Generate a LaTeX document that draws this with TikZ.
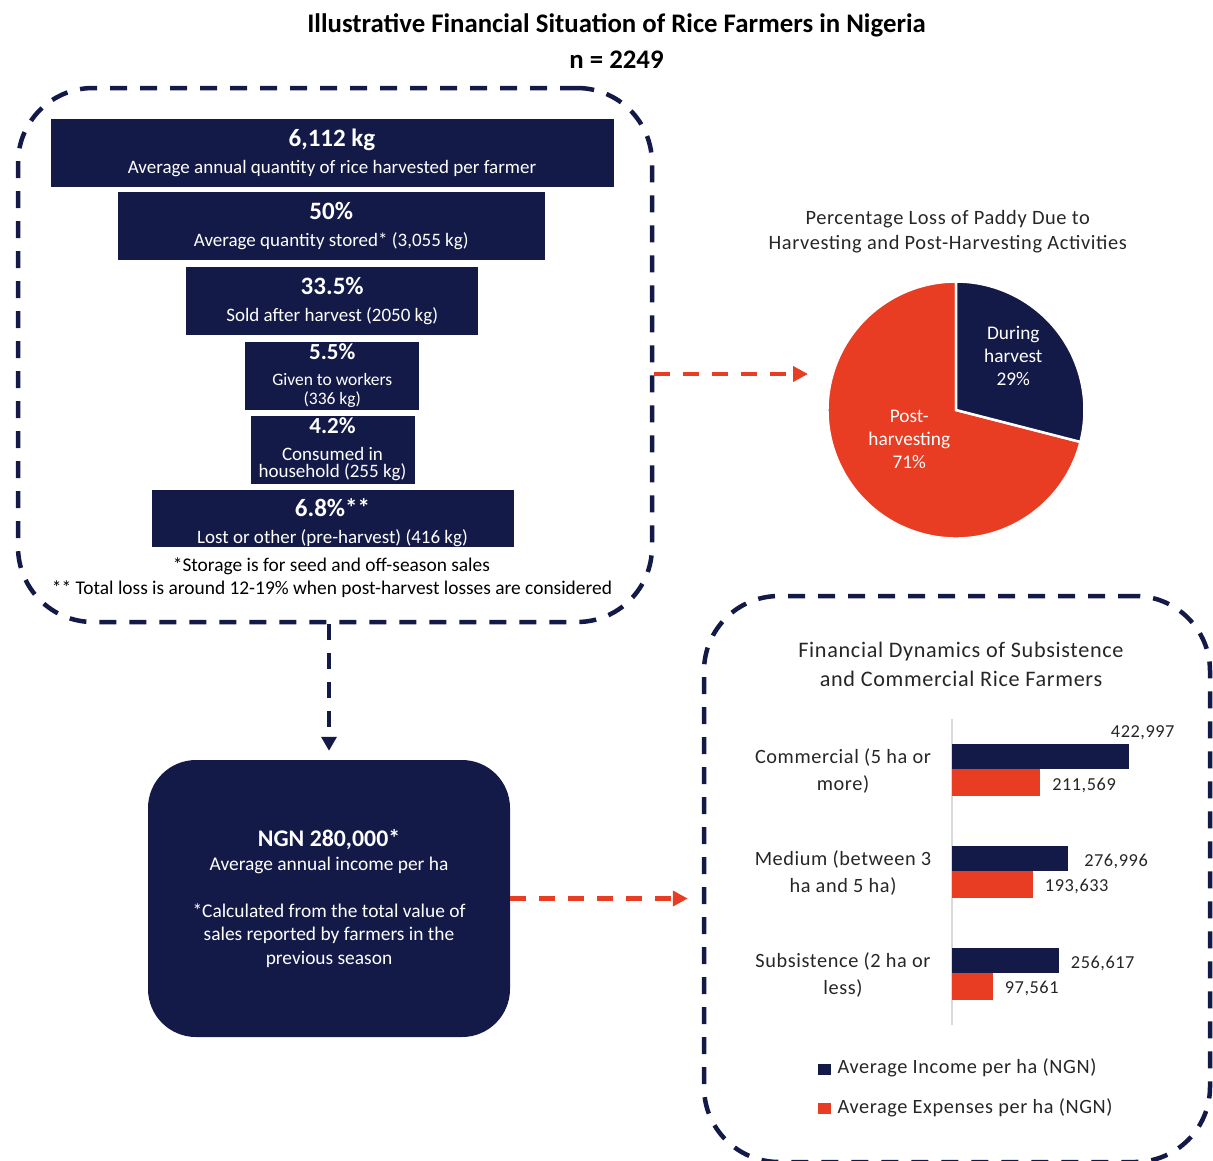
\documentclass[tikz,border=0pt]{standalone}
\usepackage{fontspec}
\setmainfont{Carlito}
\newfontfamily\chartfont[LetterSpace=3]{Carlito}
\usetikzlibrary{arrows.meta,positioning}

\definecolor{navy}{RGB}{20,26,72}
\definecolor{rust}{RGB}{232,60,35}
\definecolor{axisgrey}{RGB}{217,217,217}

\newcommand{\barhead}[1]{{\fontsize{25}{27}\selectfont\bfseries #1}}

\tikzset{
  dashframe/.style={draw=navy, line width=4.5pt, dash pattern=on 17pt off 13pt,
                    rounded corners=75pt, inner sep=0pt},
  funnelbar/.style={fill=navy, text=white, align=center, inner sep=0pt,
                    font=\fontsize{19}{27}\selectfont},
  navyflow/.style={draw=navy, line width=4.5pt, dash pattern=on 16pt off 13pt,
                   -{Triangle[length=14pt,width=15pt]}},
  rustflow/.style={draw=rust, line width=4.5pt, dash pattern=on 16pt off 13pt,
                   -{Triangle[length=15pt,width=15pt]}},
  charttext/.style={font=\chartfont\fontsize{20.3}{27}\selectfont, text=black!85, align=center},
  valuetext/.style={charttext, font=\chartfont\fontsize{18.3}{27}\selectfont},
  pielabel/.style={font=\fontsize{19.3}{23}\selectfont, text=white, align=center}
}

\begin{document}
\begin{tikzpicture}[x=1pt, y=-1pt]
  \useasboundingbox (0,0) rectangle (1213,1160);

  % title
  \node[font=\bfseries\fontsize{26.8}{30}\selectfont] (title) at (616.5,25)
    {Illustrative Financial Situation of Rice Farmers in Nigeria};
  \node[font=\bfseries\fontsize{26.8}{30}\selectfont] (sample) at (616.5,60) {n = 2249};

  % funnel
  \node[dashframe, minimum width=634, minimum height=534] (funnel) at (335,355) {};
  \node[funnelbar, minimum width=563, minimum height=68] (harvest) at (332,152.5)
    {\barhead{6,112 kg}\\Average annual quantity of rice harvested per farmer};
  \node[funnelbar, minimum width=427, minimum height=68] (stored) at (331.2,226)
    {\barhead{50\%}\\Average quantity stored* (3,055 kg)};
  \node[funnelbar, minimum width=292, minimum height=68] (sold) at (332.2,300.8)
    {\barhead{33.5\%}\\Sold after harvest (2050 kg)};
  \node[funnelbar, minimum width=174, minimum height=68,
        font=\fontsize{17.5}{19}\selectfont] (workers) at (332.3,375.8)
    {{\fontsize{23}{19}\selectfont\bfseries 5.5\%}\\[7pt]Given to workers\\(336 kg)};
  \node[funnelbar, minimum width=164, minimum height=68,
        font=\fontsize{19}{17}\selectfont] (consumed) at (332.5,449.5)
    {{\fontsize{23}{17}\selectfont\bfseries 4.2\%}\\[10pt]Consumed in\\household (255 kg)};
  \node[funnelbar, minimum width=362, minimum height=55] (lost) at (332.5,518.4)
    {\rule{0pt}{26pt}\barhead{6.8\%**}\\Lost or other (pre-harvest) (416 kg)};
  \node[font=\fontsize{19.4}{20}\selectfont] (storenote) at (331.4,566)
    {*Storage is for seed and off-season sales};
  \node[font=\fontsize{19.4}{20}\selectfont] (lossnote) at (332,589.5)
    {** Total loss is around 12-19\% when post-harvest losses are considered};

  % pie
  \coordinate (pie) at (956,410);
  \coordinate (pietip) at (808,374);
  \node[charttext, font=\chartfont\fontsize{20.4}{25}\selectfont] (pietitle) at (947.7,231.5)
    {Percentage Loss of Paddy Due to\\Harvesting and Post-Harvesting Activities};
  \filldraw[fill=rust, draw=white, line width=2.5pt] (pie) -- ++(14.4:128.5)
    arc[start angle=14.4, end angle=270, radius=128.5] -- cycle;
  \filldraw[fill=navy, draw=white, line width=2.5pt] (pie) -- ++(-90:128.5)
    arc[start angle=-90, end angle=14.4, radius=128.5] -- cycle;
  \node[pielabel] (during) at (1013.3,356) {During\\harvest\\29\%};
  \node[pielabel] (post) at (909.3,439) {Post-\\harvesting\\71\%};

  % income
  \node[fill=navy, rounded corners=48pt, minimum width=362, minimum height=277,
        text=white, align=center, font=\fontsize{19.4}{23.5}\selectfont] (income) at (329,898.5)
    {{\fontsize{23.8}{23.5}\selectfont\bfseries NGN 280,000*}\\Average annual income per ha\\[23.5pt]
     *Calculated from the total value of\\sales reported by farmers in the\\previous season};

  % bar chart
  \node[dashframe, minimum width=506, minimum height=566] (chart) at (957,879) {};
  \node[charttext, font=\chartfont\fontsize{22.2}{29}\selectfont] (charttitle) at (961,664)
    {Financial Dynamics of Subsistence\\and Commercial Rice Farmers};
  \draw[axisgrey, line width=1.5pt] (952,719) -- (952,1025);
  \foreach \yc/\inc/\exp in {769.3/422.997/211.569, 871.3/276.996/193.633, 973.3/256.617/97.561}{
    \fill[navy] (952,\yc-25.5) rectangle ({952+\inc*0.4173},\yc);
    \fill[rust] (952,\yc) rectangle ({952+\exp*0.4173},\yc+27);
  }
  \node[charttext] (commercial) at (843,771) {Commercial (5 ha or\\more)};
  \node[charttext] (medium) at (843,873) {Medium (between 3\\ha and 5 ha)};
  \node[charttext] (subsistence) at (843,975) {Subsistence (2 ha or\\less)};
  \node[valuetext] (v1) at (1142.7,733) {422,997};
  \node[valuetext] (v2) at (1084,785) {211,569};
  \node[valuetext] (v3) at (1116,861) {276,996};
  \node[valuetext] (v4) at (1076.7,886.7) {193,633};
  \node[valuetext] (v5) at (1102.7,963.3) {256,617};
  \node[valuetext] (v6) at (1031.7,988.7) {97,561};
  \fill[navy] (818.3,1063.5) rectangle (831,1074.5);
  \fill[rust] (818.3,1102.5) rectangle (831,1113.5);
  \node[charttext, anchor=west] (incomekey) at (834,1068.3) {Average Income per ha (NGN)};
  \node[charttext, anchor=west] (expensekey) at (834,1108.3) {Average Expenses per ha (NGN)};

  % flows
  \draw[rustflow] (funnel.east |- pietip) -- (pietip);
  \draw[navyflow, shorten >=9pt] (funnel.south -| income.north) -- (income.north);
  \draw[rustflow, shorten >=14pt] (income.east) -- (income.east -| chart.west);
\end{tikzpicture}
\end{document}
